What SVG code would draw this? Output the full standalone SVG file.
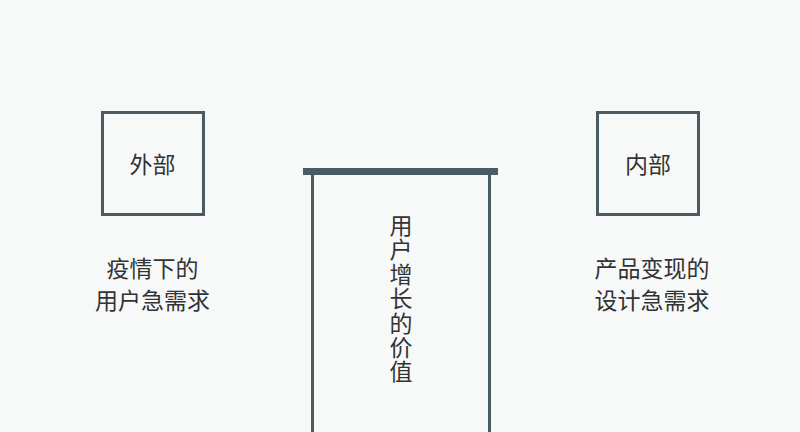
<svg xmlns="http://www.w3.org/2000/svg" width="800" height="432" viewBox="0 0 800 432">
<style>
.box{fill:none;stroke:#4a5b63;stroke-width:3}
.t{font-family:"Noto Sans CJK SC","Noto Sans",sans-serif;font-size:23px;fill:#333;text-anchor:middle}
</style>
<rect x="0" y="0" width="800" height="432" fill="#f7f9f9"/>
<g id="outer">
<rect class="box" x="102.5" y="112.5" width="101" height="102"/>
<text class="t" x="152.5" y="173">外部</text>
</g>
<g id="outer-label">
<text class="t" x="152.5" y="277">疫情下的</text>
<text class="t" x="152.5" y="309">用户急需求</text>
</g>
<g id="inner">
<rect class="box" x="597.5" y="112.5" width="101" height="102"/>
<text class="t" x="648" y="173">内部</text>
</g>
<g id="inner-label">
<text class="t" x="652" y="277">产品变现的</text>
<text class="t" x="652" y="309">设计急需求</text>
</g>
<g id="pillar">
<rect x="303" y="168" width="195" height="7" fill="#4a5b63"/>
<path class="box" d="M312.5,175 V432 M489.5,175 V432"/>
<text class="t" x="401" y="234">用<tspan x="401" dy="24.4">户</tspan><tspan x="401" dy="24.4">增</tspan><tspan x="401" dy="24.4">长</tspan><tspan x="401" dy="24.4">的</tspan><tspan x="401" dy="24.4">价</tspan><tspan x="401" dy="24.4">值</tspan></text>
</g>
<g id="connectors"></g>
</svg>
